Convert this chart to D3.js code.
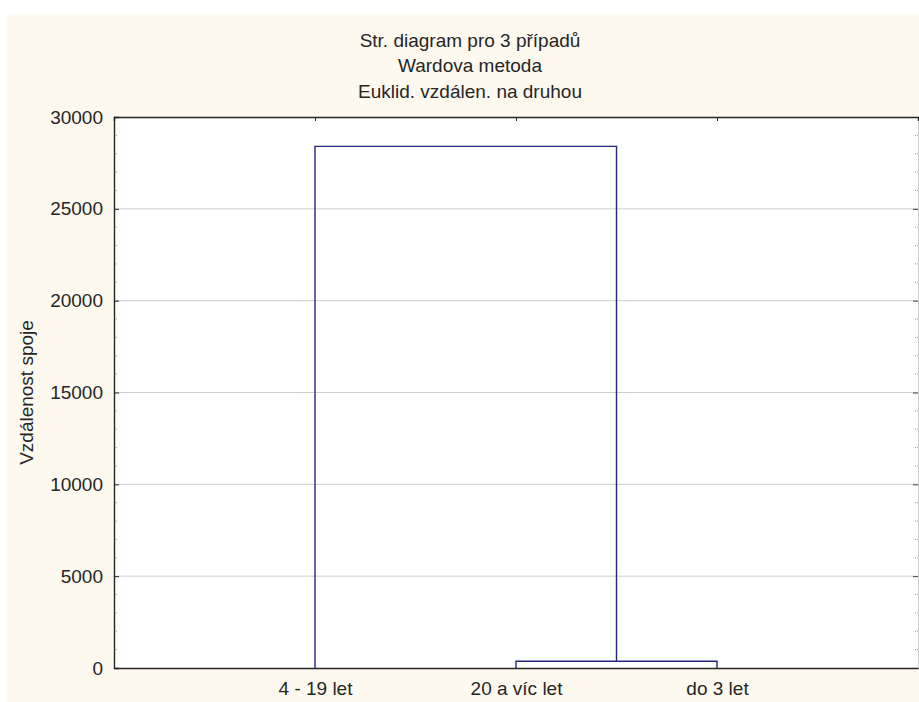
<!DOCTYPE html>
<html>
<head>
<meta charset="utf-8">
<script src="https://cdn.jsdelivr.net/npm/d3@7"></script>
<style>
html,body{margin:0;padding:0;background:#ffffff;}
svg{display:block;}
text{font-family:"Liberation Sans",Arial,sans-serif;fill:#262626;}
</style>
</head>
<body>
<script>
// ---- data ----
const titleLines = ["Str. diagram pro 3 případů", "Wardova metoda", "Euklid. vzdálen. na druhou"];
const yAxisLabel = "Vzdálenost spoje";
const leaves = ["4 - 19 let", "20 a víc let", "do 3 let"];
// merges: [left member, right member, linkage distance]; "c0" refers to cluster formed by merge 0
const mergeLeft = ["20 a víc let", "4 - 19 let"];
const mergeRight = ["do 3 let", "c0"];
const mergeHeight = [370, 28400];
const yTicks = [0, 5000, 10000, 15000, 20000, 25000, 30000];
const yMinorStep = 1000;

// ---- layout ----
(function () {
const W = 919, H = 702;
const pL = 114, pR = 918, pT = 117, pB = 668;
const fs = 19;

const svg = d3.select("body").append("svg").attr("width", W).attr("height", H);
svg.append("rect").attr("x", 7).attr("y", 15).attr("width", W - 7).attr("height", H - 15).attr("fill", "#fdf9ef");
svg.append("rect").attr("x", pL).attr("y", pT).attr("width", pR - pL).attr("height", pB - pT).attr("fill", "#ffffff");

const x = d3.scalePoint().domain(leaves).range([pL, pR]).padding(1);
const y = d3.scaleLinear().domain([0, 30000]).range([pB, pT]);

// gridlines
svg.append("g").selectAll("line").data(yTicks.filter(d => d > 0 && d < 30000)).join("line")
  .attr("x1", pL).attr("x2", pR).attr("y1", d => y(d)).attr("y2", d => y(d))
  .attr("stroke", "#cfcfcf").attr("stroke-width", 1);

// minor ticks (inside, left and right)
const minor = d3.range(0, 30001, yMinorStep).filter(d => d % 5000 !== 0);
[pL, pR].forEach((xx, i) => {
  const dir = i === 0 ? 1 : -1;
  svg.append("g").selectAll("line").data(minor).join("line")
    .attr("x1", xx).attr("x2", xx + dir * 4).attr("y1", d => y(d)).attr("y2", d => y(d))
    .attr("stroke", "#9a9a9a").attr("stroke-width", 1).attr("stroke-dasharray", "1,1");
});

// y axis (left)
const yAxis = d3.axisLeft(y).tickValues(yTicks).tickSize(-5).tickPadding(11).tickFormat(d3.format("d"));
const ga = svg.append("g").attr("transform", `translate(${pL},0)`).call(yAxis);
ga.select(".domain").attr("stroke", "#262626").attr("stroke-width", 1.4);
ga.selectAll(".tick line").attr("stroke", "#262626");
ga.selectAll("text").attr("font-size", fs).attr("fill", "#262626").attr("font-family", "Liberation Sans, Arial, sans-serif");

// right axis
const gr = svg.append("g").attr("transform", `translate(${pR},0)`)
  .call(d3.axisRight(y).tickValues(yTicks).tickSize(-5).tickFormat(""));
gr.select(".domain").attr("stroke", "#d0d0d0");
gr.selectAll(".tick line").attr("stroke", "#444");

// top axis
const gt = svg.append("g").attr("transform", `translate(0,${pT})`)
  .call(d3.axisTop(x).tickSize(-4).tickFormat(""));
gt.select(".domain").attr("stroke", "#262626").attr("stroke-width", 1.4);
gt.selectAll(".tick line").attr("stroke", "#262626");

// bottom axis
const gb = svg.append("g").attr("transform", `translate(0,${pB})`)
  .call(d3.axisBottom(x).tickSize(0).tickPadding(14));
gb.select(".domain").attr("stroke", "#262626").attr("stroke-width", 1.4);
gb.selectAll("text").attr("font-size", fs).attr("fill", "#262626").attr("font-family", "Liberation Sans, Arial, sans-serif");

// dendrogram
const pos = {};
leaves.forEach(l => pos[l] = {x: x(l), h: 0});
const links = [];
mergeHeight.forEach((h, i) => {
  const a = pos[mergeLeft[i]], b = pos[mergeRight[i]];
  links.push({a, b, h});
  pos["c" + i] = {x: (a.x + b.x) / 2, h};
});
svg.append("g").selectAll("path").data(links).join("path")
  .attr("d", d => `M${d.a.x},${y(d.a.h)}V${y(d.h)}H${d.b.x}V${y(d.b.h)}`)
  .attr("fill", "none").attr("stroke", "#26267f").attr("stroke-width", 1.4);

// titles
svg.append("g").selectAll("text").data(titleLines).join("text")
  .attr("x", 470).attr("y", (d, i) => 47 + i * 25.3)
  .attr("text-anchor", "middle").attr("font-size", fs).text(d => d);

// y label
svg.append("text").attr("transform", `translate(33,${(pT + pB) / 2}) rotate(-90)`)
  .attr("text-anchor", "middle").attr("font-size", fs).text(yAxisLabel);
})();
</script>
</body>
</html>
